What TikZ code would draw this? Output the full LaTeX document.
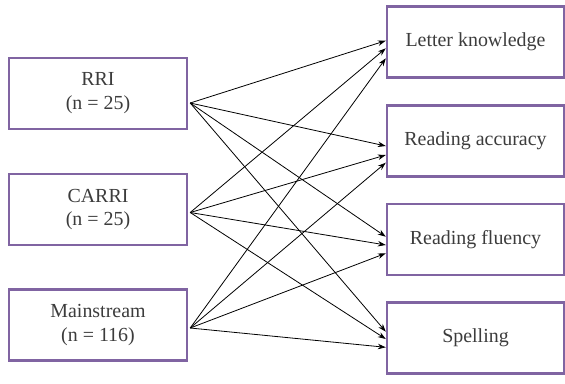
\documentclass[tikz,border=0pt]{standalone}
\usepackage{fontspec}
\setmainfont{Liberation Serif}
\usetikzlibrary{arrows.meta}
\definecolor{boxpurple}{RGB}{128,100,162}
\definecolor{textgray}{RGB}{60,60,60}
\begin{document}
\begin{tikzpicture}[x=1bp,y=-1bp,
  groupbox/.style={draw=boxpurple,line width=2.4bp,fill=white,
    minimum width=178bp,minimum height=71bp,inner sep=0pt,
    align=center,text=textgray,font=\fontsize{20}{24}\selectfont},
  outbox/.style={groupbox,minimum width=177bp},
  link/.style={draw=black,line width=0.8bp,-{Stealth[length=8bp,width=5.5bp]}}]
\useasboundingbox (0,0) rectangle (565,383);

% groups
\node[groupbox] (rri)   at (98,93.5)  {RRI\\(n = 25)};
\node[groupbox] (carri) at (98,209.5) {CARRI\\(n = 25)};
\node[groupbox] (main)  at (98,325)   {Mainstream\\(n = 116)};

% outcomes
\node[outbox] (letter) at (475.5,42)  {Letter knowledge};
\node[outbox] (acc)    at (475.5,141) {Reading accuracy};
\node[outbox] (flu)    at (475.5,239.5) {Reading fluency};
\node[outbox] (spell)  at (475.5,338) {Spelling};

% arrow origins just right of the group boxes
\coordinate (s1) at ([xshift=2bp,yshift=-9.5bp]rri.east);
\coordinate (s2) at ([xshift=2bp,yshift=-3bp]carri.east);
\coordinate (s3) at ([xshift=2bp,yshift=-3bp]main.east);

% arrow ends on the outcome boxes
\coordinate (l1) at ([yshift=1.3bp]letter.west);
\coordinate (l2) at ([yshift=-6.3bp]letter.west);
\coordinate (l3) at ([yshift=-16.3bp]letter.west);
\coordinate (a1) at ([yshift=-5bp]acc.west);
\coordinate (a2) at ([yshift=-14bp]acc.west);
\coordinate (a3) at ([yshift=-21.7bp]acc.west);
\coordinate (f1) at ([yshift=2.8bp]flu.west);
\coordinate (f2) at ([yshift=-5.5bp]flu.west);
\coordinate (f3) at ([yshift=-13.8bp]flu.west);
\coordinate (p1) at ([yshift=6.3bp]spell.west);
\coordinate (p2) at ([yshift=-1bp]spell.west);
\coordinate (p3) at ([yshift=-9.3bp]spell.west);

\foreach \t in {l1,a1,f1,p1} \draw[link] (s1) -- (\t);
\foreach \t in {l2,a2,f2,p2} \draw[link] (s2) -- (\t);
\foreach \t in {l3,a3,f3,p3} \draw[link] (s3) -- (\t);
\end{tikzpicture}
\end{document}
